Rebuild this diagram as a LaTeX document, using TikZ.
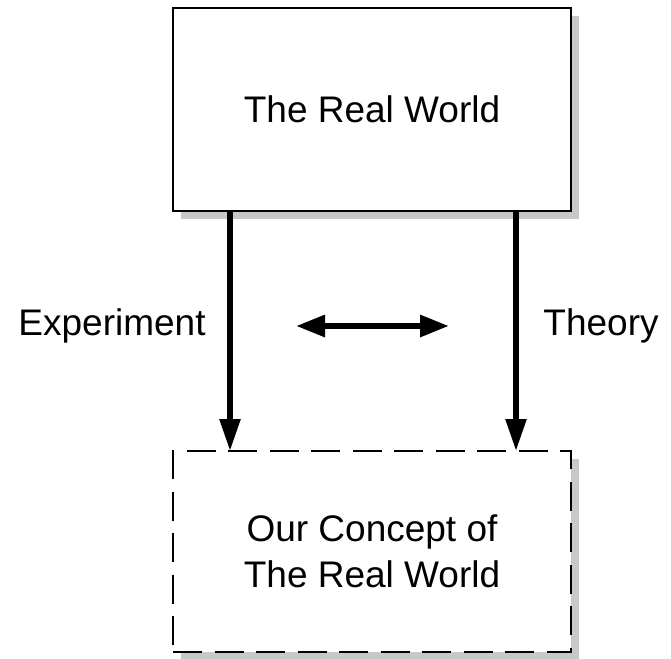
\documentclass[tikz,border=0pt]{standalone}
\usepackage{fontspec}
\setmainfont{Liberation Sans}
\usetikzlibrary{arrows.meta,shadows}
\definecolor{shadowgray}{RGB}{200,200,200}
\tikzset{
  box/.style={draw=black, line width=2pt, fill=white, minimum width=398pt, minimum height=203pt, inner sep=0pt, align=center, font=\fontsize{37}{46}\selectfont},
  boxshadow/.style={fill=shadowgray, draw=none},
  flow/.style={line width=5.5pt, -{Triangle[length=32pt,width=20pt]}},
  both/.style={line width=6pt, {Triangle[length=29pt,width=21pt]}-{Triangle[length=29pt,width=21pt]}},
  lbl/.style={font=\fontsize{37}{46}\selectfont, inner sep=0pt}
}
\begin{document}
\begin{tikzpicture}[x=1pt,y=-1pt]
\useasboundingbox (0,0) rectangle (671,658);
% shadows
\fill[boxshadow] (181,16) rectangle (579,219);
\fill[boxshadow] (181,459) rectangle (579,660);
\node[box] (real) at (372,109.5) {The Real World};
\node[box, dash pattern=on 29pt off 12.5pt, minimum height=201pt] (concept) at (372,551.5) {Our Concept of\\The Real World};
\coordinate (a1) at (230,211);
\coordinate (b1) at (230,451);
\coordinate (a2) at (516,211);
\coordinate (b2) at (516,451);
\draw[flow] (a1) -- (b1);
\draw[flow] (a2) -- (b2);
\coordinate (dl) at (296,326);
\coordinate (dr) at (449,326);
\draw[both] (dl) -- (dr);
\node[lbl] (exp) at (112,326) {Experiment};
\node[lbl] (theo) at (601,326) {Theory};
\end{tikzpicture}
\end{document}
